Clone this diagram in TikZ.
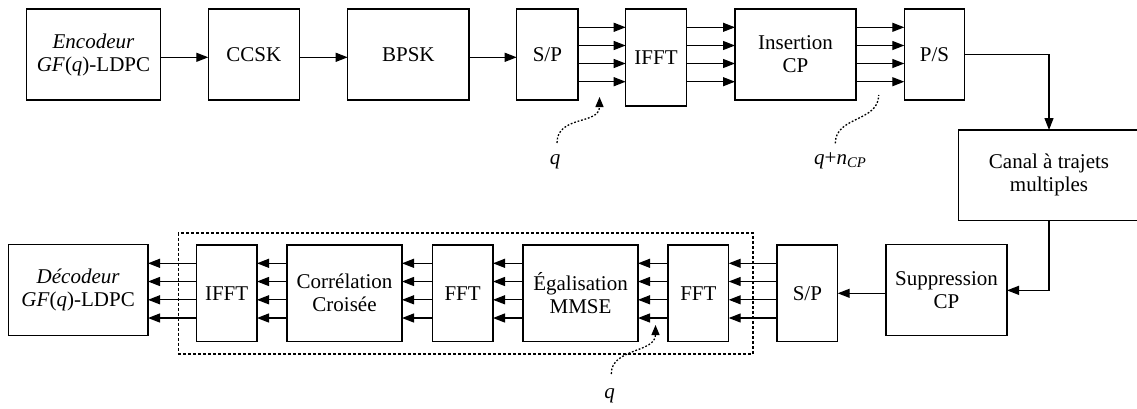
\documentclass[tikz,border=0pt]{standalone}
\usepackage{fontspec}
\setmainfont{Liberation Serif}
\usetikzlibrary{arrows.meta}
\begin{document}
\begin{tikzpicture}[x=1pt,y=-1pt,
  every node/.style={font=\fontsize{21}{23}\selectfont},
  blk/.style={draw, line width=1.2pt, inner sep=0pt, outer sep=0pt, align=center, minimum height=91pt},
  tall/.style={minimum height=96.3pt},
  arr/.style={line width=1.2pt, -{Triangle[length=12pt,width=9pt]}},
  dotc/.style={line width=1.3pt, dash pattern=on 1.8pt off 1.8pt},
  dotarr/.style={dotc, -{Triangle[length=10pt,width=8pt]}},
  grp/.style={draw, line width=1.6pt, dash pattern=on 3pt off 2pt, inner sep=0pt, outer sep=0pt},
  lab/.style={anchor=base, inner sep=0pt}]
\useasboundingbox (0,0) rectangle (1137,408);

% ---- top row ----
\node[blk, minimum width=133.6pt] (enc) at (93.5,54.5) {\textit{Encodeur}\\\textit{GF}(\textit{q})-LDPC};
\node[blk, minimum width=91pt] (ccsk) at (253.8,54.5) {CCSK};
\node[blk, minimum width=121.3pt] (bpsk) at (408.35,54.5) {BPSK};
\node[blk, minimum width=61.3pt] (sp1) at (547.35,54.5) {S/P};
\node[blk, minimum width=60.6pt, minimum height=97pt] (ifft1) at (656,57.5) {IFFT};
\node[blk, minimum width=121pt] (ins) at (795.5,54.5) {Insertion\\CP};
\node[blk, minimum width=60.4pt] (ps) at (934.5,54.5) {P/S};
\node[blk, minimum width=180.6pt, minimum height=90.7pt] (canal) at (1049,175.35) {Canal à trajets\\multiples};

% ---- bottom row ----
\node[blk, minimum width=139.7pt] (dec) at (78.15,290.35) {\textit{Décodeur}\\\textit{GF}(\textit{q})-LDPC};
\node[blk, tall, minimum width=60.7pt] (ifft2) at (226.65,293.15) {IFFT};
\node[blk, tall, minimum width=115pt] (corr) at (344.5,293.15) {Corrélation\\Croisée};
\node[blk, tall, minimum width=60.7pt] (fft1) at (462.65,293.15) {FFT};
\node[blk, tall, minimum width=115pt] (ega) at (580.5,293.15) {Égalisation\\MMSE};
\node[blk, tall, minimum width=60.7pt] (fft2) at (698.35,293.15) {FFT};
\node[blk, tall, minimum width=60.7pt] (sp2) at (807.35,293.15) {S/P};
\node[blk, minimum width=121pt] (sup) at (946.5,290.35) {Suppression\\CP};

\node[grp, minimum width=574.7pt, minimum height=121pt] (group) at (465.65,293.5) {};

% ---- row coordinates ----
\coordinate (t1) at (0,27.3);
\coordinate (t2) at (0,45.5);
\coordinate (t3) at (0,63.5);
\coordinate (t4) at (0,81.7);
\coordinate (tm) at (0,57.3);
\coordinate (b1) at (0,263.3);
\coordinate (b2) at (0,281.5);
\coordinate (b3) at (0,299.8);
\coordinate (b4) at (0,318);
\coordinate (bm) at (0,293.3);

% ---- top connectors ----
\draw[arr] (enc.east |- tm) -- (ccsk.west |- tm);
\draw[arr] (ccsk.east |- tm) -- (bpsk.west |- tm);
\draw[arr] (bpsk.east |- tm) -- (sp1.west |- tm);
\foreach \r in {t1,t2,t3,t4} {
  \draw[arr] (sp1.east |- \r) -- (ifft1.west |- \r);
  \draw[arr] (ifft1.east |- \r) -- (ins.west |- \r);
  \draw[arr] (ins.east |- \r) -- (ps.west |- \r);
}
\draw[arr] (ps.east) -| (canal.north);
\draw[arr] (canal.south) |- (sup.east);

% ---- bottom connectors ----
\draw[arr] (sup.west |- bm) -- (sp2.east |- bm);
\foreach \r in {b1,b2,b3,b4} {
  \draw[arr] (sp2.west |- \r) -- (fft2.east |- \r);
  \draw[arr] (fft2.west |- \r) -- (ega.east |- \r);
  \draw[arr] (ega.west |- \r) -- (fft1.east |- \r);
  \draw[arr] (fft1.west |- \r) -- (corr.east |- \r);
  \draw[arr] (corr.west |- \r) -- (ifft2.east |- \r);
  \draw[arr] (ifft2.west |- \r) -- (dec.east |- \r);
}

% ---- labels and dotted pointers ----
\node[lab] (q1) at (555,164) {\textit{q}};
\node[lab] (qn) at (840.3,164) {\textit{q}+\textit{n}\textsubscript{\textit{CP}}};
\node[lab] (q2) at (609.7,398) {\textit{q}};

\coordinate (c1s) at (557,143);
\coordinate (c1e) at (599.5,97);
\coordinate (c2s) at (835.3,143.3);
\coordinate (c2e) at (878.7,95);
\coordinate (c3s) at (611.3,374);
\coordinate (c3e) at (655.5,325);

\draw[dotarr] (c1s) .. controls (557,115) and (599.5,125) .. (c1e);
\draw[dotc] (c2s) .. controls (835.3,116) and (878.7,122) .. (c2e);
\draw[dotarr] (c3s) .. controls (611,348) and (655.5,353) .. (c3e);
\end{tikzpicture}
\end{document}
